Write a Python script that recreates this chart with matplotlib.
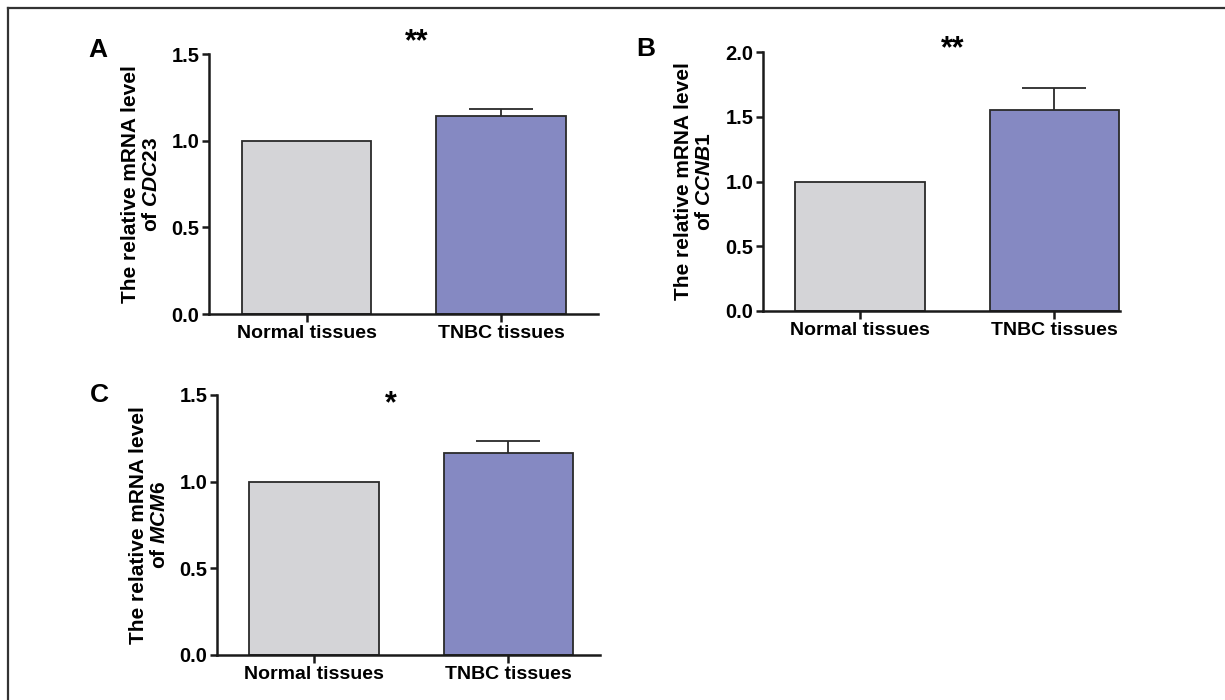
import matplotlib
matplotlib.use("Agg")
import matplotlib.pyplot as plt
from matplotlib.lines import Line2D

plt.rcParams['font.family'] = ['Liberation Sans', 'DejaVu Sans']
plt.rcParams['font.weight'] = 'bold'
plt.rcParams['mathtext.fontset'] = 'custom'
plt.rcParams['mathtext.rm'] = 'Liberation Sans:bold'
plt.rcParams['mathtext.it'] = 'Liberation Sans:italic:bold'
plt.rcParams['mathtext.bf'] = 'Liberation Sans:bold'

categories = ["Normal tissues", "TNBC tissues"]
genes = ["CDC23", "CCNB1", "MCM6"]
panel_letters = ["A", "B", "C"]
means_cdc23 = [1.0, 1.14]
errs_cdc23 = [0.0, 0.045]
means_ccnb1 = [1.0, 1.55]
errs_ccnb1 = [0.0, 0.17]
means_mcm6 = [1.0, 1.165]
errs_mcm6 = [0.0, 0.07]
signif = ["**", "**", "*"]
yticks_a = [0.0, 0.5, 1.0, 1.5]
yticks_b = [0.0, 0.5, 1.0, 1.5, 2.0]
yticks_c = [0.0, 0.5, 1.0, 1.5]

bar_colors = ["#d4d4d7", "#8589c2"]
edge = "#2a2a2a"

W, H = 1225, 700
fig = plt.figure(figsize=(W / 100, H / 100), dpi=100)

def px_rect(left, right, top, bottom):
    return [left / W, (H - bottom) / H, (right - left) / W, (bottom - top) / H]

panels = [
    dict(rect=px_rect(209, 598, 54, 314), xlim=(-0.505, 1.5), ylim=(0, 1.5),
         means=means_cdc23, errs=errs_cdc23, yticks=yticks_a, gene=genes[0],
         labx=-0.175, star=(417, 42), letter=(98, 50), sig=signif[0]),
    dict(rect=px_rect(763, 1120, 52, 311), xlim=(-0.5, 1.34), ylim=(0, 2.0),
         means=means_ccnb1, errs=errs_ccnb1, yticks=yticks_b, gene=genes[1],
         labx=-0.193, star=(953, 49), letter=(646, 49), sig=signif[1]),
    dict(rect=px_rect(217, 600, 395, 655), xlim=(-0.5, 1.474), ylim=(0, 1.5),
         means=means_mcm6, errs=errs_mcm6, yticks=yticks_c, gene=genes[2],
         labx=-0.178, star=(391, 404), letter=(99, 395), sig=signif[2]),
]

for p in panels:
    ax = fig.add_axes(p["rect"])
    x = list(range(len(categories)))
    ax.bar(x, p["means"], width=0.665, color=bar_colors, edgecolor=edge,
           linewidth=1.3, zorder=2)
    ax.errorbar(x[1:], p["means"][1:], yerr=p["errs"][1:], fmt='none',
                ecolor=edge, elinewidth=1.3, capsize=23, capthick=1.3, zorder=1)
    ax.set_xlim(*p["xlim"])
    ax.set_ylim(*p["ylim"])
    ax.set_yticks(p["yticks"])
    ax.set_yticklabels([f"{v:.1f}" for v in p["yticks"]])
    ax.set_xticks(x)
    ax.set_xticklabels(categories)
    for s in ["top", "right"]:
        ax.spines[s].set_visible(False)
    for s in ["left", "bottom"]:
        ax.spines[s].set_linewidth(1.8)
        ax.spines[s].set_color("#1a1a1a")
    ax.tick_params(axis='both', width=1.8, color="#1a1a1a", direction='out')
    ax.tick_params(axis='y', length=5, pad=2, labelsize=14.5)
    ax.tick_params(axis='x', length=6, pad=2, labelsize=14)
    for lab in ax.get_xticklabels() + ax.get_yticklabels():
        lab.set_fontweight('bold')
    ax.set_ylabel("The relative mRNA level\nof $\\it{" + p["gene"] + "}$",
                  fontsize=15, fontweight='bold', va='center',
                  linespacing=1.1)
    ax.yaxis.set_label_coords(p["labx"], 0.5)
    sx, sy = p["star"]
    fig.text(sx / W, 1 - sy / H, p["sig"], fontsize=22, fontweight='bold',
             ha='center', va='center')

for p, letter in zip(panels, panel_letters):
    lx, ly = p["letter"]
    fig.text(lx / W, 1 - ly / H, letter, fontsize=19, fontweight='bold',
             ha='center', va='center')

# figure frame (top and left edges visible)
fig.add_artist(Line2D([8 / W, 8 / W], [0, 1 - 8 / H], transform=fig.transFigure,
                      color="#333333", linewidth=1.6))
fig.add_artist(Line2D([8 / W, 1], [1 - 8 / H, 1 - 8 / H], transform=fig.transFigure,
                      color="#333333", linewidth=1.6))

fig.savefig("out.png", dpi=100)
